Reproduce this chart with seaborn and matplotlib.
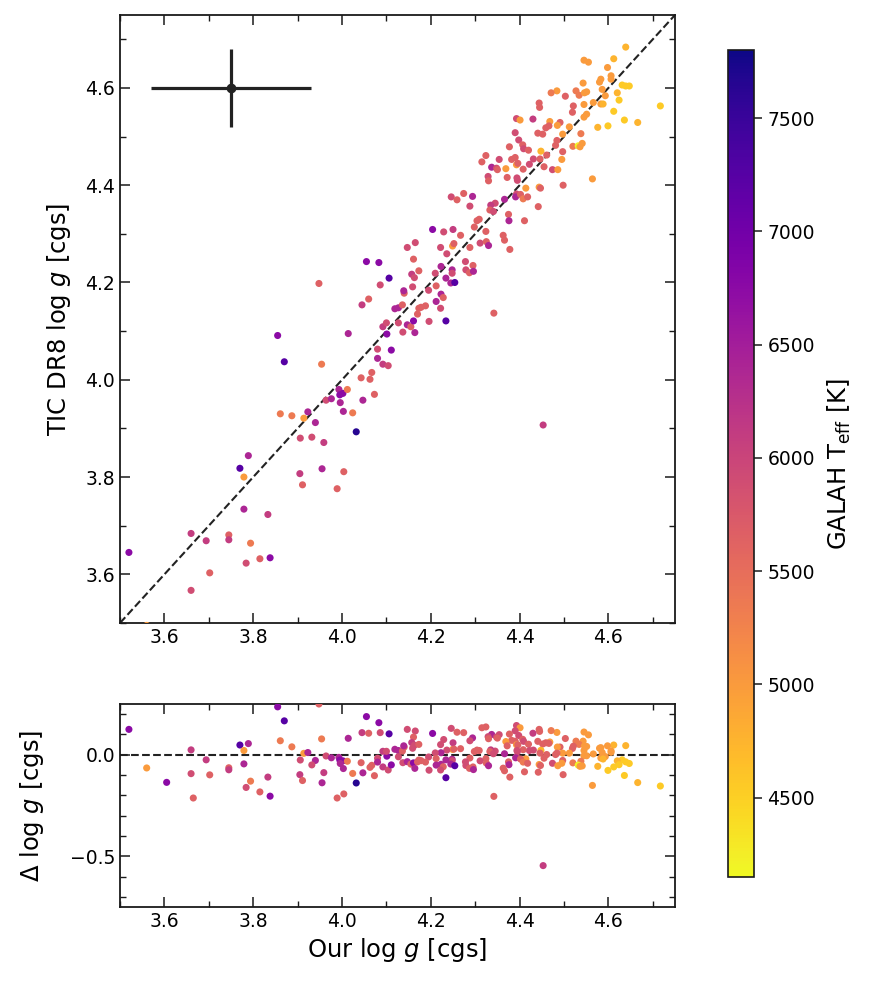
import numpy as np
import pandas as pd
import matplotlib
matplotlib.use("Agg")
import matplotlib.pyplot as plt
import seaborn as sns
from matplotlib.colors import Normalize
from matplotlib.cm import ScalarMappable
from matplotlib.ticker import MultipleLocator

# our log g (x), TIC DR8 log g (y), GALAH Teff (colour)
ours_logg = [
    3.520, 3.660, 3.694, 3.660, 3.702, 3.745, 3.745, 3.794, 3.784, 3.815,
    3.838, 3.833, 3.779, 3.770, 3.779, 3.789, 3.855, 3.870, 3.948, 3.954,
    3.861, 3.887, 3.914, 3.923, 3.940, 3.906, 3.932, 3.959, 3.905, 3.911,
    3.955, 3.989, 4.004, 4.032, 3.964, 3.976, 3.993, 3.995, 4.002, 3.996,
    4.003, 4.012, 4.024, 4.047, 4.043, 4.063, 4.067, 4.073, 4.014, 4.045,
    4.060, 4.055, 4.083, 4.106, 4.086, 4.080, 4.080, 4.092, 4.104, 4.111,
    4.101, 4.092, 4.100, 4.119, 4.127, 4.127, 4.136, 4.137, 4.140, 4.139,
    4.147, 4.165, 4.161, 4.157, 4.163, 4.159, 4.147, 4.155, 4.161, 4.164,
    4.170, 4.173, 4.173, 4.639, 4.545, 4.555, 4.612, 4.598, 4.583, 4.580,
    4.606, 4.606, 4.543, 4.631, 4.639, 4.647, 4.527, 4.534, 4.546, 4.551,
    4.586, 4.593, 4.620, 4.484, 4.471, 4.503, 4.444, 4.445, 4.521, 4.519,
    4.545, 4.566, 4.583, 4.588, 4.624, 4.612, 4.717, 4.666, 4.636, 4.599,
    4.576, 4.545, 4.551, 4.393, 4.401, 4.430, 4.468, 4.459, 4.466, 4.491,
    4.485, 4.512, 4.390, 4.441, 4.452, 4.497, 4.538, 4.398, 4.484, 4.407,
    4.377, 4.409, 4.420, 4.448, 4.481, 4.520, 4.532, 4.536, 4.541, 4.497,
    4.324, 4.315, 4.354, 4.382, 4.390, 4.393, 4.396, 4.431, 4.446, 4.461,
    4.495, 4.422, 4.337, 4.348, 4.350, 4.369, 4.408, 4.455, 4.474, 4.486,
    4.329, 4.330, 4.372, 4.394, 4.395, 4.564, 4.498, 4.444, 4.447, 4.414,
    4.393, 4.391, 4.402, 4.408, 4.418, 4.442, 4.246, 4.259, 4.274, 4.294,
    4.288, 4.366, 4.345, 4.335, 4.333, 4.341, 4.375, 4.376, 4.411, 4.309,
    4.304, 4.298, 4.204, 4.229, 4.250, 4.267, 4.324, 4.363, 4.366, 4.311,
    4.325, 4.330, 4.378, 4.222, 4.249, 4.252, 4.236, 4.288, 4.223, 4.210,
    4.248, 4.248, 4.278, 4.295, 4.279, 4.287, 4.296, 4.234, 4.245, 4.254,
    4.195, 4.212, 4.223, 4.228, 4.212, 4.178, 4.188, 4.222, 4.342, 4.234,
    4.196, 4.453, 3.560, 3.605, 3.665,
]
tic_logg = [
    3.645, 3.684, 3.669, 3.567, 3.603, 3.681, 3.671, 3.664, 3.623, 3.632,
    3.634, 3.723, 3.734, 3.818, 3.800, 3.844, 4.091, 4.037, 4.198, 4.032,
    3.930, 3.926, 3.921, 3.934, 3.912, 3.880, 3.882, 3.871, 3.807, 3.784,
    3.817, 3.776, 3.811, 3.893, 3.958, 3.961, 3.980, 3.969, 3.972, 3.953,
    3.935, 3.980, 3.932, 3.958, 4.004, 4.001, 4.015, 3.970, 4.095, 4.154,
    4.166, 4.243, 4.241, 4.209, 4.195, 4.063, 4.044, 4.032, 4.029, 4.061,
    4.094, 4.109, 4.117, 4.146, 4.148, 4.117, 4.154, 4.098, 4.178, 4.183,
    4.272, 4.282, 4.248, 4.217, 4.210, 4.191, 4.113, 4.109, 4.121, 4.097,
    4.135, 4.147, 4.224, 4.684, 4.657, 4.653, 4.660, 4.642, 4.618, 4.612,
    4.625, 4.618, 4.610, 4.606, 4.604, 4.604, 4.594, 4.585, 4.590, 4.592,
    4.597, 4.584, 4.590, 4.594, 4.590, 4.583, 4.569, 4.560, 4.563, 4.550,
    4.566, 4.570, 4.567, 4.567, 4.575, 4.552, 4.563, 4.529, 4.534, 4.522,
    4.519, 4.540, 4.546, 4.537, 4.534, 4.536, 4.531, 4.518, 4.522, 4.529,
    4.523, 4.520, 4.508, 4.507, 4.505, 4.505, 4.506, 4.493, 4.492, 4.483,
    4.479, 4.475, 4.472, 4.470, 4.482, 4.480, 4.481, 4.479, 4.486, 4.469,
    4.461, 4.448, 4.453, 4.453, 4.457, 4.442, 4.445, 4.454, 4.454, 4.462,
    4.453, 4.443, 4.437, 4.435, 4.432, 4.434, 4.433, 4.438, 4.432, 4.432,
    4.418, 4.409, 4.416, 4.415, 4.410, 4.413, 4.400, 4.396, 4.394, 4.394,
    4.382, 4.376, 4.381, 4.372, 4.376, 4.356, 4.376, 4.370, 4.383, 4.377,
    4.357, 4.371, 4.363, 4.359, 4.349, 4.346, 4.340, 4.327, 4.327, 4.330,
    4.327, 4.314, 4.309, 4.304, 4.309, 4.297, 4.305, 4.297, 4.287, 4.281,
    4.284, 4.276, 4.268, 4.272, 4.275, 4.280, 4.259, 4.272, 4.233, 4.219,
    4.226, 4.219, 4.243, 4.235, 4.226, 4.220, 4.223, 4.209, 4.199, 4.200,
    4.184, 4.193, 4.176, 4.169, 4.161, 4.149, 4.152, 4.147, 4.137, 4.121,
    4.120, 3.907, 3.495, 3.469, 3.452,
]
teff_galah = [
    6750, 6100, 6100, 5900, 5650, 5650, 6100, 5350, 5900, 5650,
    6750, 6100, 6400, 7250, 5000, 6400, 6750, 7250, 5650, 5350,
    5350, 5350, 5000, 6400, 6400, 5900, 5900, 6100, 6100, 5650,
    6400, 5650, 5650, 7650, 5900, 6400, 6400, 6750, 6750, 6400,
    6400, 5350, 5350, 6400, 5650, 5650, 5650, 5650, 6400, 6100,
    5650, 6750, 6750, 7250, 5900, 5900, 6400, 6100, 5900, 6750,
    6750, 6100, 5900, 6400, 6400, 5900, 5650, 5900, 5650, 6400,
    5900, 5900, 5650, 6100, 5900, 5900, 6400, 5650, 6750, 6400,
    5650, 5650, 5650, 4750, 5000, 5000, 4750, 5000, 5000, 5000,
    5000, 5000, 5000, 4550, 4550, 4550, 5350, 5350, 5000, 5000,
    5000, 5000, 4750, 5000, 5350, 5650, 5650, 5650, 5650, 5650,
    5000, 5000, 5000, 4750, 4550, 4550, 4550, 4750, 4550, 4550,
    4750, 5000, 5000, 5900, 5000, 6100, 5000, 5650, 5650, 5650,
    5000, 5000, 5900, 5650, 5650, 5000, 5350, 5900, 5650, 5650,
    5650, 5900, 5650, 4750, 5650, 5350, 4200, 5000, 5000, 5650,
    5650, 5650, 5900, 5650, 5650, 5000, 5650, 5900, 5650, 5650,
    5000, 5900, 6400, 5900, 5650, 5000, 5650, 5650, 5900, 5000,
    5900, 5650, 5650, 5900, 5900, 5000, 5650, 5000, 5650, 5000,
    5900, 6400, 5650, 5350, 5650, 5650, 5900, 5650, 5650, 6400,
    5900, 6400, 5900, 6100, 5650, 5900, 5650, 6400, 5650, 5650,
    5650, 5650, 6750, 5900, 6100, 5650, 5650, 5650, 5650, 5900,
    5650, 6400, 5650, 5900, 5000, 5650, 5900, 5650, 6400, 5900,
    6400, 5900, 5900, 5650, 5900, 5650, 6400, 6400, 6400, 7250,
    5900, 5650, 6400, 5650, 6400, 5650, 5650, 5900, 5650, 7250,
    5900, 6100, 5000, 6750, 5650,
]

# typical uncertainty shown as a cross in the corner
err_pos = (3.75, 4.60)
err_x, err_y = 0.18, 0.08

teff_range = (4150, 7800)
teff_ticks = [4500, 5000, 5500, 6000, 6500, 7000, 7500]
logg_lim = (3.5, 4.75)
logg_ticks = [3.6, 3.8, 4.0, 4.2, 4.4, 4.6]
delta_lim = (-0.75, 0.25)
delta_ticks = [-0.5, 0.0]

df = pd.DataFrame({"ours": ours_logg, "tic": tic_logg, "teff": teff_galah})
df["delta"] = df["tic"] - df["ours"]

sns.set_style("ticks")
plt.rcParams.update({
    "font.family": ["DejaVu Sans"],
    "mathtext.fontset": "dejavusans",
    "text.color": "black",
    "axes.labelcolor": "black",
    "xtick.color": "black",
    "ytick.color": "black",
    "xtick.direction": "in",
    "ytick.direction": "in",
    "xtick.top": True,
    "ytick.right": True,
    "xtick.major.size": 7,
    "ytick.major.size": 7,
    "xtick.minor.size": 4,
    "ytick.minor.size": 4,
    "xtick.major.width": 1.1,
    "ytick.major.width": 1.1,
    "xtick.minor.width": 1.0,
    "ytick.minor.width": 1.0,
    "axes.linewidth": 1.3,
    "axes.edgecolor": "#1a1a1a",
    "xtick.labelsize": 13.5,
    "ytick.labelsize": 13.5,
})

norm = Normalize(*teff_range)
cmap = "plasma_r"

fig = plt.figure(figsize=(8.73, 9.86), dpi=100)
ax_top = fig.add_axes([0.1375, 0.3682, 0.6357, 0.6166])
ax_bot = fig.add_axes([0.1375, 0.0801, 0.6357, 0.2059])
ax_cb = fig.add_axes([0.8339, 0.1105, 0.0300, 0.8387])

# top panel
sns.scatterplot(data=df, x="ours", y="tic", hue="teff", palette=cmap,
                hue_norm=norm, s=26, linewidth=0, legend=False, ax=ax_top,
                zorder=3)
ax_top.axline((3.5, 3.5), slope=1, color="#222222", ls="--", lw=1.5, zorder=2)
ax_top.errorbar(*err_pos, xerr=err_x, yerr=err_y, fmt="o", color="#222222",
                ms=6, lw=2.3, capsize=0, zorder=4)
ax_top.set_xlim(*logg_lim)
ax_top.set_ylim(*logg_lim)
ax_top.set_xticks(logg_ticks)
ax_top.set_yticks(logg_ticks)
ax_top.xaxis.set_minor_locator(MultipleLocator(0.1))
ax_top.yaxis.set_minor_locator(MultipleLocator(0.1))
ax_top.set_xlabel("")
ax_top.set_ylabel("TIC DR8 log $g$ [cgs]", fontsize=17.5, labelpad=9)

# residual panel
sns.scatterplot(data=df, x="ours", y="delta", hue="teff", palette=cmap,
                hue_norm=norm, s=26, linewidth=0, legend=False, ax=ax_bot,
                zorder=3)
ax_bot.axhline(0, color="#222222", ls="--", lw=1.5, zorder=2)
ax_bot.set_xlim(*logg_lim)
ax_bot.set_ylim(*delta_lim)
ax_bot.set_xticks(logg_ticks)
ax_bot.set_yticks(delta_ticks)
ax_bot.xaxis.set_minor_locator(MultipleLocator(0.1))
ax_bot.yaxis.set_minor_locator(MultipleLocator(0.1))
ax_bot.set_xlabel("Our log $g$ [cgs]", fontsize=17.5)
ax_bot.set_ylabel("Δ log $g$ [cgs]", fontsize=17.5, labelpad=17)

for ax in (ax_top, ax_bot):
    ax.tick_params(which="both", top=True, right=True, color="#1a1a1a")

# colour bar
sm = ScalarMappable(norm=norm, cmap=cmap)
cb = fig.colorbar(sm, cax=ax_cb, ticks=teff_ticks)
cb.outline.set_linewidth(1.2)
cb.ax.tick_params(direction="out", right=True, left=False, length=6,
                  width=1.1, labelsize=13.5, color="#1a1a1a")
cb.ax.minorticks_off()
cb.set_label(r"GALAH T$_{\rm eff}$ [K]", fontsize=17.5, labelpad=8)

fig.savefig("out.png", dpi=100)
